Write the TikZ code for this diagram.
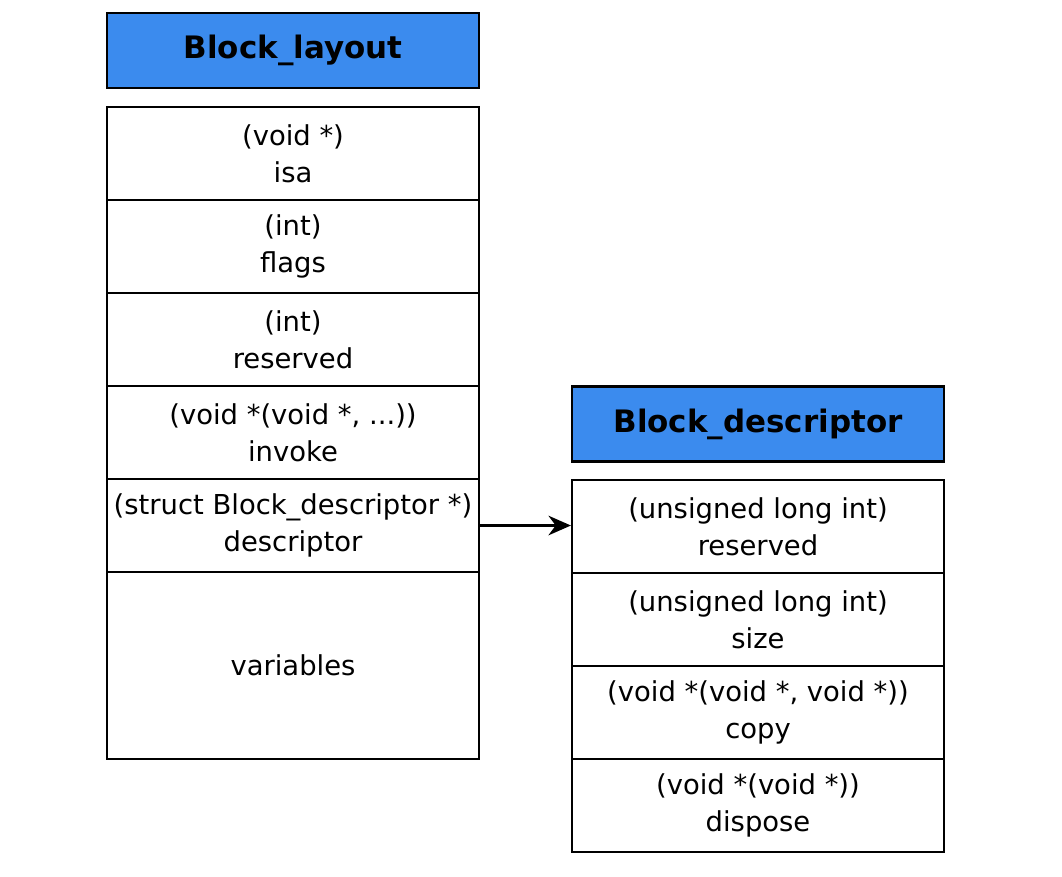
\documentclass[tikz,border=0pt]{standalone}
\usepackage{fontspec}
\setmainfont{DejaVu Sans}
\usetikzlibrary{arrows.meta,positioning}
\definecolor{titleblue}{RGB}{59,139,238}
\begin{document}
\begin{tikzpicture}[x=0.025cm,y=-0.025cm,
  field/.style={draw,line width=1.5pt,minimum width=9.3cm,minimum height=2.325cm,
    align=center,inner sep=0pt,font=\fontsize{19.5}{26}\selectfont},
  title/.style={field,fill=titleblue,minimum height=1.875cm,font=\bfseries\fontsize{22}{26}\selectfont}]
\useasboundingbox (0,0) rectangle (1062,876);
% Block_layout
\node[title] (lay) at (293,50.5) {Block\_layout};
\node[field] (isa) at (293,153.5) {(void *)\\isa};
\node[field] (flags) at (293,246.5) {(int)\\flags};
\node[field] (res) at (293,339.5) {(int)\\reserved};
\node[field] (inv) at (293,432.5) {(void *(void *, ...))\\invoke};
\node[field] (desc) at (293,525.5) {(struct Block\_descriptor *)\\descriptor};
\node[field,minimum height=4.675cm] (vars) at (293,665.5) {variables};
% Block_descriptor
\node[title] (dsc) at (758,424) {Block\_descriptor};
\node[field] (dres) at (758,526.5) {(unsigned long int)\\reserved};
\node[field] (size) at (758,619.5) {(unsigned long int)\\size};
\node[field] (copy) at (758,712.5) {(void *(void *, void *))\\copy};
\node[field] (disp) at (758,805.5) {(void *(void *))\\dispose};
\draw[line width=1.5pt,-{Stealth[length=16pt,width=14pt]}] (desc.east) -- (desc.east -| dres.west);
\end{tikzpicture}
\end{document}
